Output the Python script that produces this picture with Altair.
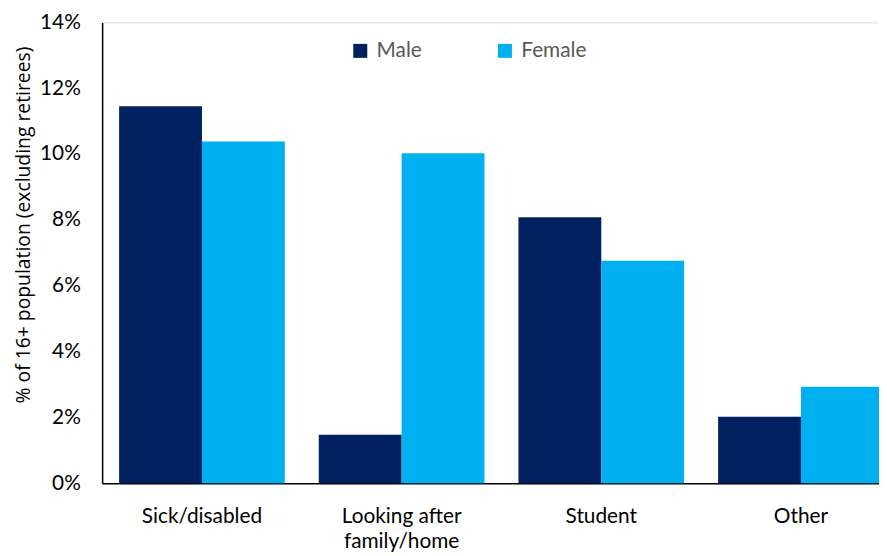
import altair as alt
import pandas as pd

categories = ["Sick/disabled", "Looking after family/home", "Student", "Other"]
male = [11.45, 1.47, 8.08, 2.02]
female = [10.38, 10.02, 6.76, 2.93]
series = ["Male", "Female"]
colors = ["#002060", "#00B0F0"]

rows = []
for c, m, f in zip(categories, male, female):
    rows.append({"category": c, "sex": "Male", "value": m / 100})
    rows.append({"category": c, "sex": "Female", "value": f / 100})
df = pd.DataFrame(rows)

FONT = "Lato"

chart = alt.Chart(df).mark_bar().encode(
    x=alt.X("category:N", sort=categories, title=None,
            scale=alt.Scale(range=[0, 806], paddingInner=0.17, paddingOuter=0.085),
            axis=alt.Axis(labelAngle=0, ticks=False, labelPadding=23, labelFontSize=21,
                          labelColor="#000000", labelFont=FONT, domainColor="#000000",
                          domainWidth=1.5, labelLimit=300, labelLineHeight=25,
                          labelExpr="datum.label == 'Looking after family/home' ? ['Looking after', 'family/home'] : datum.label")),
    xOffset=alt.XOffset("sex:N", sort=series, scale=alt.Scale(paddingInner=0, paddingOuter=0)),
    y=alt.Y("value:Q", title="% of 16+ population (excluding retirees)",
            scale=alt.Scale(domain=[0, 0.14], nice=False),
            axis=alt.Axis(format=".0%", values=[0, 0.02, 0.04, 0.06, 0.08, 0.10, 0.12, 0.14],
                          ticks=False, grid=False, labelPadding=22, labelFontSize=21,
                          labelColor="#000000", labelFont=FONT, domainColor="#000000",
                          domainWidth=1.5, titleFont="Open Sans", titleFontSize=19.5,
                          titleFontWeight="normal", titleColor="#000000",
                          titleX=-79, titleY=204, titleAlign="center", titleBaseline="middle",
                          titleAngle=270)),
    color=alt.Color("sex:N", sort=series, scale=alt.Scale(domain=series, range=colors),
                    legend=alt.Legend(title=None, orient="none", legendX=250, legendY=18,
                                      direction="horizontal", symbolType="square",
                                      symbolSize=200, symbolStrokeWidth=0, labelFontSize=21,
                                      labelFont=FONT, labelColor="#595959", columnPadding=73,
                                      symbolOffset=0, labelOffset=6)),
).properties(
    width=784, height=465,
    autosize=alt.AutoSizeParams(type="none"),
    padding={"left": 95, "top": 12, "right": 0, "bottom": 70},
).configure_view(stroke=None).configure(background="white")

chart.save("out.html", embed_options={"renderer": "svg", "actions": False})
